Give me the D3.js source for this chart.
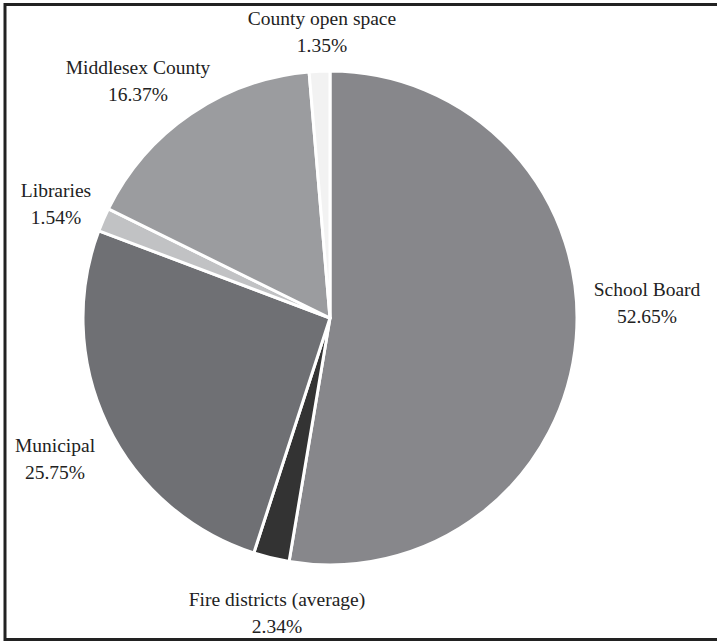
<!DOCTYPE html>
<html>
<head>
<meta charset="utf-8">
<script src="https://cdn.jsdelivr.net/npm/d3@7"></script>
<style>
  html, body { margin: 0; padding: 0; background: #fff; }
  svg { display: block; }
  .lbl { font-family: "Liberation Serif", "Times New Roman", Tinos, "DejaVu Serif", serif; font-size: 19.5px; }
</style>
</head>
<body>
<div id="chart"></div>
<script>
// data, clockwise from 12 o'clock
const categories = ["School Board", "Fire districts (average)", "Municipal", "Libraries", "Middlesex County", "County open space"];
const shares = [52.65, 2.34, 25.75, 1.54, 16.37, 1.35];
const shareLabels = ["52.65%", "2.34%", "25.75%", "1.54%", "16.37%", "1.35%"];

// layout
const width = 717;
const height = 642;
const cx = 330;
const cy = 318;
const radius = 247;
const sliceColors = ["#87878b", "#333333", "#6f7074", "#c1c2c4", "#9b9c9f", "#f2f2f2"];
// label centre x and first baseline y
const labelPos = [[647, 296], [277, 606], [55, 452], [56, 197], [138, 74], [322, 25]];
const lineGap = 27;

const svg = d3.select("#chart")
  .append("svg")
  .attr("width", width)
  .attr("height", height);

// frame (right edge falls outside the picture)
svg.append("rect")
  .attr("x", 5)
  .attr("y", 4.5)
  .attr("width", width + 10)
  .attr("height", 635)
  .attr("fill", "none")
  .attr("stroke", "#222")
  .attr("stroke-width", 3);

const pie = d3.pie().sort(null).value((d) => d);
const arcs = pie(shares);
const arc = d3.arc().innerRadius(0).outerRadius(radius);

const g = svg.append("g").attr("transform", `translate(${cx},${cy})`);

g.selectAll("path")
  .data(arcs)
  .join("path")
  .attr("d", arc)
  .attr("fill", (d, i) => sliceColors[i])
  .attr("stroke", "#fff")
  .attr("stroke-width", 3)
  .attr("stroke-linejoin", "round");

// data labels
const labels = svg.append("g")
  .attr("class", "lbl")
  .attr("fill", "#222")
  .attr("text-anchor", "middle")
  .selectAll("text")
  .data(categories)
  .join("text")
  .attr("class", "lbl")
  .attr("x", (d, i) => labelPos[i][0])
  .attr("y", (d, i) => labelPos[i][1]);

labels.append("tspan").text((d) => d);
labels.append("tspan")
  .attr("x", (d, i) => labelPos[i][0])
  .attr("dy", lineGap)
  .text((d, i) => shareLabels[i]);
</script>
</body>
</html>
